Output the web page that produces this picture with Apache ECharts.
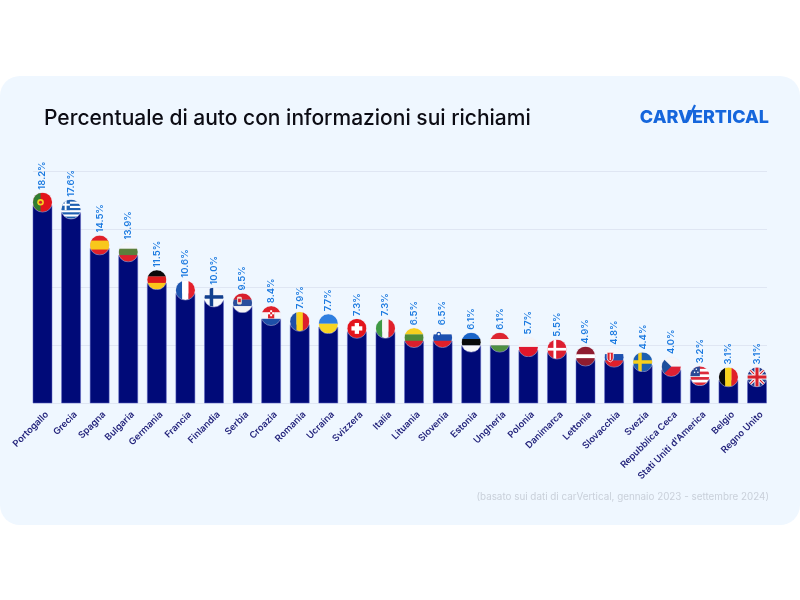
<!DOCTYPE html>
<html><head><meta charset="utf-8">
<style>html,body{margin:0;padding:0;background:#fff}#c{width:800px;height:600px}</style>
<script src="https://cdn.jsdelivr.net/npm/echarts@6/dist/echarts.min.js"></script>
</head><body><div id="c"></div>
<script>
const categories = ['Portogallo','Grecia','Spagna','Bulgaria','Germania','Francia','Finlandia','Serbia','Croazia','Romania','Ucraina','Svizzera','Italia','Lituania','Slovenia','Estonia','Ungheria','Polonia','Danimarca','Lettonia','Slovacchia','Svezia','Repubblica Ceca',"Stati Uniti d'America",'Belgio','Regno Unito'];
const values = [18.2,17.6,14.5,13.9,11.5,10.6,10.0,9.5,8.4,7.9,7.7,7.3,7.3,6.5,6.5,6.1,6.1,5.7,5.5,4.9,4.8,4.4,4.0,3.2,3.1,3.1];
const gridTicks = [0,5,10,15,20];

const h3 = (a,b,c) => `<rect width="100" height="34" fill="${a}"/><rect y="33" width="100" height="34" fill="${b}"/><rect y="66" width="100" height="34" fill="${c}"/>`;
const v3 = (a,b,c) => `<rect width="34" height="100" fill="${a}"/><rect x="33" width="34" height="100" fill="${b}"/><rect x="66" width="34" height="100" fill="${c}"/>`;
const flags = [
 `<rect width="100" height="100" fill="#e3141c"/><rect width="40" height="100" fill="#2f7d32"/><circle cx="40" cy="50" r="17" fill="#f5d020"/><circle cx="40" cy="50" r="8" fill="#d8202a"/>`,
 `<rect width="100" height="100" fill="#fff"/>`+[0,22,44,66,88].map(y=>`<rect y="${y}" width="100" height="11" fill="#1d5fb0"/>`).join('')+`<rect width="44" height="55" fill="#1d5fb0"/><rect x="17" width="10" height="55" fill="#fff"/><rect y="22" width="44" height="10" fill="#fff"/>`,
 `<rect width="100" height="100" fill="#e0202a"/><rect y="27" width="100" height="46" fill="#f8c81c"/>`,
 h3('#f4f6fa','#5b7f3c','#de1f2c'),
 h3('#0a0a0a','#dd1c1c','#fbc81a'),
 v3('#1c55b0','#ffffff','#e4202c'),
 `<rect width="100" height="100" fill="#f6f8fb"/><rect x="28" width="18" height="100" fill="#12408f"/><rect y="40" width="100" height="18" fill="#12408f"/>`,
 h3('#d81f2c','#2a4d9c','#f4f4f6')+`<rect x="22" y="18" width="24" height="40" rx="6" fill="#f0e0d0"/><rect x="27" y="28" width="14" height="18" fill="#d81f2c"/>`,
 h3('#e0202a','#f6f6f8','#1d4fa8')+`<rect x="34" y="22" width="32" height="42" fill="#e0202a"/><rect x="34" y="32" width="11" height="11" fill="#fff"/><rect x="55" y="32" width="11" height="11" fill="#fff"/><rect x="45" y="22" width="10" height="10" fill="#fff"/><rect x="45" y="43" width="10" height="10" fill="#fff"/>`,
 v3('#1c4fa8','#f8d11c','#dd1f2c'),
 `<rect width="100" height="50" fill="#2f7fe0"/><rect y="50" width="100" height="50" fill="#f8d422"/>`,
 `<rect width="100" height="100" fill="#e3141c"/><rect x="39" y="22" width="22" height="56" fill="#fff"/><rect x="22" y="39" width="56" height="22" fill="#fff"/>`,
 v3('#3f9a45','#f7f7f7','#e0202a'),
 h3('#f7cf1e','#4e8a3a','#d81f2c'),
 h3('#f5f7fa','#1d50b0','#e0202a')+`<circle cx="30" cy="32" r="12" fill="#1d50b0"/><circle cx="30" cy="32" r="6" fill="#fff"/>`,
 h3('#1a64c8','#0a0a0a','#f8f8fa'),
 h3('#dd2530','#f6f2ee','#4f8f3f'),
 `<rect width="100" height="50" fill="#f3f3f5"/><rect y="50" width="100" height="50" fill="#e0162a"/>`,
 `<rect width="100" height="100" fill="#dd1f30"/><rect x="32" width="14" height="100" fill="#fff"/><rect y="43" width="100" height="14" fill="#fff"/>`,
 `<rect width="100" height="100" fill="#8f1c30"/><rect y="40" width="100" height="20" fill="#fff"/>`,
 h3('#f5f7fa','#1d50b0','#e0202a')+`<path d="M14 24h32v30q0 14-16 20q-16-6-16-20z" fill="#e0202a" stroke="#fff" stroke-width="4"/><rect x="27" y="30" width="6" height="34" fill="#fff"/>`,
 `<rect width="100" height="100" fill="#1d5fb0"/><rect x="27" width="18" height="100" fill="#f8d01c"/><rect y="41" width="100" height="18" fill="#f8d01c"/>`,
 `<rect width="100" height="50" fill="#f4f5f7"/><rect y="50" width="100" height="50" fill="#dd2033"/><path d="M0 0L50 50L0 100z" fill="#1d4f9c"/>`,
 `<rect width="100" height="100" fill="#fff"/>`+[0,28,56,84].map(y=>`<rect y="${y}" width="100" height="14" fill="#dc2a3a"/>`).join('')+`<rect width="50" height="52" fill="#2a4a96"/><circle cx="14" cy="16" r="4" fill="#fff"/><circle cx="32" cy="16" r="4" fill="#fff"/><circle cx="23" cy="32" r="4" fill="#fff"/><circle cx="40" cy="32" r="4" fill="#fff"/>`,
 v3('#0a0a0a','#f8d21c','#e0202a'),
 `<rect width="100" height="100" fill="#27408f"/><path d="M0 0L100 100M100 0L0 100" stroke="#fff" stroke-width="16"/><path d="M0 0L100 100M100 0L0 100" stroke="#d8202c" stroke-width="6"/><rect x="37" width="26" height="100" fill="#fff"/><rect y="37" width="100" height="26" fill="#fff"/><rect x="42" width="16" height="100" fill="#d8202c"/><rect y="42" width="100" height="16" fill="#d8202c"/>`
];
const flagUri = s => 'image://data:image/svg+xml;charset=utf-8,' + encodeURIComponent(
 `<svg xmlns="http://www.w3.org/2000/svg" width="80" height="80" viewBox="-4 -4 108 108"><defs><clipPath id="k"><circle cx="50" cy="50" r="50"/></clipPath></defs><g clip-path="url(#k)">${s}</g><circle cx="50" cy="50" r="51" fill="none" stroke="#f0effa" stroke-opacity="0.75" stroke-width="3"/></svg>`);

const FONT = 'Inter, "Noto Sans", sans-serif';
const chart = echarts.init(document.getElementById('c'), null, {renderer:'canvas'});
chart.setOption({
  animation:false,
  backgroundColor:'#fff',
  graphic:[
    {type:'rect',z:-10,shape:{x:0,y:76,width:800,height:449,r:20},style:{fill:'#eff7ff'}},
    {type:'text',left:44,top:108,style:{text:'Percentuale di auto con informazioni sui richiami',font:'500 21px '+FONT,fill:'#0c0c14'}},
    {type:'text',right:31,top:109,style:{text:'CARVERTICAL',font:'800 18px '+FONT,fill:'#1566dc'}},
    {type:'line',shape:{x1:687,y1:122,x2:695,y2:105},style:{stroke:'#1566dc',lineWidth:2.2}},
    {type:'text',right:31,top:492,style:{text:'(basato sui dati di carVertical, gennaio 2023 - settembre 2024)',font:'400 9.85px '+FONT,fill:'#c9d0da'}}
  ],
  grid:[
    {left:28.2,right:28.7,top:171.5,height:231.5},
    {left:33,right:33,top:171.5,height:231.5,z:0},
    {left:32.7,right:24.2,top:171.5,height:231.5}
  ],
  xAxis:[
    {type:'category',gridIndex:0,data:categories,show:false},
    {type:'value',gridIndex:1,show:false,min:0,max:1},
    {type:'category',gridIndex:2,data:categories,
      axisLine:{show:false},axisTick:{show:false},
      axisLabel:{interval:0,rotate:45,margin:10,fontFamily:FONT,fontSize:9.3,fontWeight:600,color:'#24247c'}}
  ],
  yAxis:[
    {type:'value',gridIndex:0,show:false,min:1.115,max:21.115,splitLine:{show:false}},
    {type:'value',gridIndex:1,min:gridTicks[0],max:gridTicks[gridTicks.length-1],interval:5,
      axisLine:{show:false},axisTick:{show:false},axisLabel:{show:false},
      splitLine:{show:true,lineStyle:{color:'#dfe6f3',width:1}}},
    {type:'value',gridIndex:2,show:false,min:0,max:1}
  ],
  series:[
    {type:'bar',xAxisIndex:0,yAxisIndex:0,data:values,barWidth:19.5,z:3,
      itemStyle:{color:'#000a78',borderColor:'#5f66c4',borderWidth:0.5}},
    {type:'scatter',xAxisIndex:0,yAxisIndex:0,z:4,
      data:values.map((v,i)=>({value:v,symbol:flagUri(flags[i])})),
      symbolSize:21,symbolOffset:[0,-3],clip:false,itemStyle:{opacity:1},
      label:{show:true,position:'top',distance:2,rotate:90,align:'left',verticalAlign:'middle',fontFamily:FONT,fontSize:9.5,fontWeight:600,color:'#1b7ae0',
        formatter:p=>values[p.dataIndex].toFixed(1)+'%'}}
  ]
});
</script></body></html>
